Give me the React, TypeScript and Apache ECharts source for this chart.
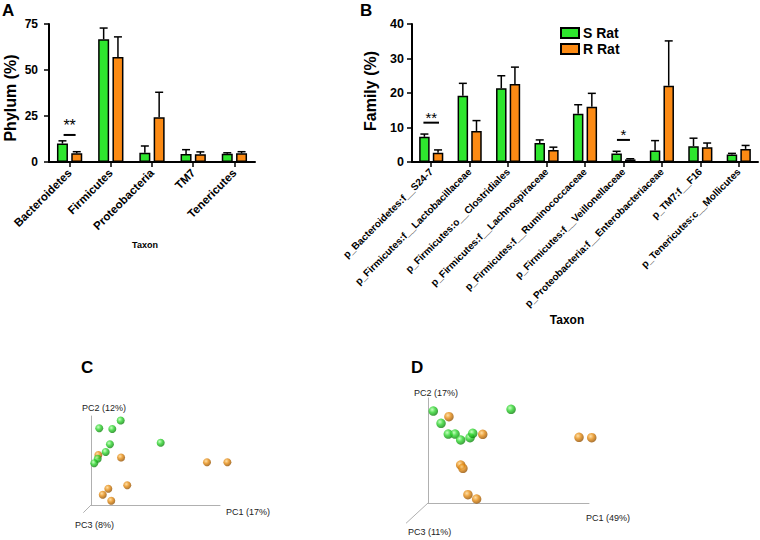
import React, { useEffect, useRef } from "react";
import * as echarts from "echarts";

const FONT = "Liberation Sans, Arial, Helvetica, sans-serif";
const GREEN = "#2ee62e";
const ORANGE = "#fb8a14";

// Panel A: phylum level
const phylumCats = ["Bacteroidetes", "Firmicutes", "Proteobacteria", "TM7", "Tenericutes"];
const phylumS = [10, 66.7, 5, 4.3, 4.5];
const phylumSSem = [1.5, 6.1, 3.7, 2.4, 0.5];
const phylumR = [4.8, 57, 24.3, 4.2, 4.7];
const phylumRSem = [0.8, 11, 13.6, 1.3, 0.9];
const phylumTicks = [0, 25, 50, 75];

// Panel B: family level
const familyCats = [
  "p_Bacteroidetes:f__S24-7",
  "p_Firmicutes:f__Lactobacillaceae",
  "p_Firmicutes:o__Clostridiales",
  "p_Firmicutes:f__Lachnospiraceae",
  "p_Firmicutes:f__Ruminococcaceae",
  "p_Firmicutes:f__Veillonellaceae",
  "p_Proteobacteria:f__Enterobacteriaceae",
  "p_TM7:f__F16",
  "p_Tenericutes:c__Mollicutes",
];
const familyS = [7.3, 19.2, 21.4, 5.5, 14.0, 2.5, 3.3, 4.6, 2.2];
const familySSem = [0.8, 3.6, 3.6, 0.9, 2.6, 0.6, 2.9, 2.3, 0.3];
const familyR = [2.7, 9.0, 22.6, 3.5, 16.0, 0.75, 22.1, 4.3, 3.8];
const familyRSem = [0.8, 3.0, 4.9, 0.8, 3.9, 0.2, 13.0, 1.2, 1.0];
const familyTicks = [0, 10, 20, 30, 40];

// significance markers: [category index, bar-line height]
const sigA = [[0, 14.7]];
const sigALabels = ["**"];
const sigB = [[0, 11.4], [5, 6.4]];
const sigBLabels = ["**", "*"];

// Panel C / D: PCoA scores (normalised plot units)
const cGreen = [[6.4, 86.2], [16.5, 85.4], [23.0, 94.9], [14.7, 68.2], [11.4, 59.6], [5.2, 52], [2.5, 46.9], [54.0, 69.9]];
const cOrange = [[5.7, 56.2], [23.3, 53.4], [89.9, 48], [105.7, 48], [28.1, 22.1], [13.4, 18.3], [9.1, 11.6], [15.7, 4.8]];
const dGreen = [[3.3, 87.6], [8.1, 75.9], [12.6, 65.7], [16.8, 65.7], [20.3, 60], [26.1, 62.2], [27.8, 66.4], [51.6, 89.2]];
const dOrange = [[13.0, 82.2], [34.0, 65.4], [93.8, 62.6], [101.7, 62.2], [20.3, 36.2], [21.7, 33], [24.8, 7.9], [30.2, 3.8]];

function errRender(offset: number, capW: number) {
  return (params: any, api: any) => {
    const i = api.value(0);
    const p1 = api.coord([i, api.value(1)]);
    const p2 = api.coord([i, api.value(2)]);
    const cx = p1[0] + offset;
    return {
      type: "group",
      children: [
        { type: "line", shape: { x1: cx, y1: p1[1], x2: cx, y2: p2[1] }, style: { stroke: "#000", lineWidth: 1.5 } },
        { type: "line", shape: { x1: cx - capW / 2, y1: p2[1], x2: cx + capW / 2, y2: p2[1] }, style: { stroke: "#000", lineWidth: 1.5 } },
      ],
    };
  };
}

function sigRender(labels: string[], halfW: number[], dy: number, fs: number) {
  return (params: any, api: any) => {
    const idx = params.dataIndex;
    const p = api.coord([api.value(0), api.value(1)]);
    return {
      type: "group",
      children: [
        { type: "line", shape: { x1: p[0] - halfW[idx], y1: p[1], x2: p[0] + halfW[idx], y2: p[1] }, style: { stroke: "#000", lineWidth: 2 } },
        {
          type: "text",
          x: p[0],
          y: p[1] - dy,
          style: { text: labels[idx], fill: "#000", fontSize: fs, fontFamily: FONT, align: "center", verticalAlign: "middle" },
        },
      ],
    };
  };
}

function sphere(base: string, light: string, dark: string) {
  return {
    type: "radial",
    x: 0.38,
    y: 0.35,
    r: 0.7,
    colorStops: [
      { offset: 0, color: light },
      { offset: 0.45, color: base },
      { offset: 1, color: dark },
    ],
  };
}

const barAxisLine = { show: true, lineStyle: { color: "#000", width: 2 } };
const barAxisTick = { show: true, length: 5, lineStyle: { color: "#000", width: 1.5 } };
const pcAxis = (gi: number) => ({
  type: "value",
  gridIndex: gi,
  min: 0,
  max: 100,
  axisLine: { show: true, onZero: false, lineStyle: { color: "#b0b0b0", width: 1 } },
  axisTick: { show: false },
  axisLabel: { show: false },
  splitLine: { show: false },
});

const txt = (text: string, x: number, y: number, size: number, weight: string, extra: any = {}) => ({
  type: "text",
  x,
  y,
  style: {
    text,
    fill: extra.fill || "#000",
    fontSize: size,
    fontWeight: weight,
    fontFamily: FONT,
    align: extra.align || "left",
    verticalAlign: extra.verticalAlign || "middle",
  },
  rotation: extra.rotation || 0,
});

export default function App() {
  const ref = useRef<HTMLDivElement>(null);
  useEffect(() => {
    if (!ref.current) return;
    const chart = echarts.init(ref.current, undefined, { renderer: "svg" });
    const greenSphere = sphere("#2fd62f", "#b8ffb0", "#0a7a0a");
    const orangeSphere = sphere("#e68c12", "#ffd890", "#8a4a00");
    const option: any = {
      animation: false,
      backgroundColor: "#fff",
      textStyle: { fontFamily: FONT },
      grid: [
        { left: 49, top: 24, width: 206, height: 138 },
        { left: 412, top: 24, width: 346, height: 138 },
        { left: 91, top: 416, width: 129, height: 89 },
        { left: 428, top: 398, width: 161, height: 105 },
      ],
      legend: {
        data: ["S Rat", "R Rat"],
        orient: "vertical",
        left: 555,
        top: 21,
        itemWidth: 18,
        itemHeight: 10,
        itemGap: 2,
        icon: "rect",
        selectedMode: false,
        textStyle: { fontSize: 14, fontWeight: "bold", color: "#000", fontFamily: FONT, padding: [0, 0, 0, -1] },
      },
      xAxis: [
        {
          type: "category",
          gridIndex: 0,
          data: phylumCats,
          axisLine: barAxisLine,
          axisTick: { ...barAxisTick, alignWithLabel: true },
          axisLabel: { rotate: 45, interval: 0, fontSize: 11.5, fontWeight: "bold", color: "#000", margin: 9, fontFamily: FONT },
        },
        {
          type: "category",
          gridIndex: 1,
          data: familyCats,
          axisLine: barAxisLine,
          axisTick: { ...barAxisTick, alignWithLabel: true },
          axisLabel: { rotate: 45, interval: 0, fontSize: 10, fontWeight: "bold", color: "#000", margin: 8, fontFamily: FONT },
        },
        pcAxis(2),
        pcAxis(3),
      ],
      yAxis: [
        {
          type: "value",
          gridIndex: 0,
          min: phylumTicks[0],
          max: phylumTicks[phylumTicks.length - 1],
          interval: 25,
          axisLine: barAxisLine,
          axisTick: barAxisTick,
          splitLine: { show: false },
          axisLabel: { fontSize: 12, fontWeight: "bold", color: "#000", margin: 11, fontFamily: FONT },
        },
        {
          type: "value",
          gridIndex: 1,
          min: familyTicks[0],
          max: familyTicks[familyTicks.length - 1],
          interval: 10,
          axisLine: barAxisLine,
          axisTick: barAxisTick,
          splitLine: { show: false },
          axisLabel: { fontSize: 12.5, fontWeight: "bold", color: "#000", margin: 8, fontFamily: FONT },
        },
        pcAxis(2),
        pcAxis(3),
      ],
      series: [
        {
          name: "S Rat",
          type: "bar",
          xAxisIndex: 0,
          yAxisIndex: 0,
          data: phylumS,
          barWidth: 11,
          barGap: "30%",
          itemStyle: { color: GREEN, borderColor: "#000", borderWidth: 1.5 },
        },
        {
          name: "R Rat",
          type: "bar",
          xAxisIndex: 0,
          yAxisIndex: 0,
          data: phylumR,
          barWidth: 11,
          barGap: "30%",
          itemStyle: { color: ORANGE, borderColor: "#000", borderWidth: 1.5 },
        },
        {
          name: "S Rat",
          type: "bar",
          xAxisIndex: 1,
          yAxisIndex: 1,
          data: familyS,
          barWidth: 10.5,
          barGap: "30%",
          itemStyle: { color: GREEN, borderColor: "#000", borderWidth: 1.5 },
        },
        {
          name: "R Rat",
          type: "bar",
          xAxisIndex: 1,
          yAxisIndex: 1,
          data: familyR,
          barWidth: 10.5,
          barGap: "30%",
          itemStyle: { color: ORANGE, borderColor: "#000", borderWidth: 1.5 },
        },
        {
          name: "errAS",
          type: "custom",
          xAxisIndex: 0,
          yAxisIndex: 0,
          data: phylumS.map((v, i) => [i, v, v + phylumSSem[i]]),
          renderItem: errRender(-11 * 0.65, 8),
          z: 5,
        },
        {
          name: "errAR",
          type: "custom",
          xAxisIndex: 0,
          yAxisIndex: 0,
          data: phylumR.map((v, i) => [i, v, v + phylumRSem[i]]),
          renderItem: errRender(11 * 0.65, 8),
          z: 5,
        },
        {
          name: "errBS",
          type: "custom",
          xAxisIndex: 1,
          yAxisIndex: 1,
          data: familyS.map((v, i) => [i, v, v + familySSem[i]]),
          renderItem: errRender(-10.5 * 0.65, 8),
          z: 5,
        },
        {
          name: "errBR",
          type: "custom",
          xAxisIndex: 1,
          yAxisIndex: 1,
          data: familyR.map((v, i) => [i, v, v + familyRSem[i]]),
          renderItem: errRender(10.5 * 0.65, 8),
          z: 5,
        },
        {
          name: "sigA",
          type: "custom",
          xAxisIndex: 0,
          yAxisIndex: 0,
          data: sigA,
          renderItem: sigRender(sigALabels, [6], 9.5, 16),
          z: 5,
        },
        {
          name: "sigB",
          type: "custom",
          xAxisIndex: 1,
          yAxisIndex: 1,
          data: sigB,
          renderItem: sigRender(sigBLabels, [7.8, 6.5], 5.5, 15),
          z: 5,
        },
        {
          name: "cR",
          type: "scatter",
          xAxisIndex: 2,
          yAxisIndex: 2,
          data: cOrange,
          symbolSize: 8,
          clip: false,
          itemStyle: { color: orangeSphere },
        },
        {
          name: "cS",
          type: "scatter",
          xAxisIndex: 2,
          yAxisIndex: 2,
          data: cGreen,
          symbolSize: 8,
          clip: false,
          itemStyle: { color: greenSphere },
        },
        {
          name: "dR",
          type: "scatter",
          xAxisIndex: 3,
          yAxisIndex: 3,
          data: dOrange,
          symbolSize: 9.5,
          clip: false,
          itemStyle: { color: orangeSphere },
        },
        {
          name: "dS",
          type: "scatter",
          xAxisIndex: 3,
          yAxisIndex: 3,
          data: dGreen,
          symbolSize: 9.5,
          clip: false,
          itemStyle: { color: greenSphere },
        },
      ],
      graphic: [
        txt("A", 2, 10, 17, "bold"),
        txt("B", 360, 10, 17, "bold"),
        txt("C", 81, 367, 17, "bold"),
        txt("D", 411, 367, 17, "bold"),
        txt("Phylum (%)", 10, 98, 16, "bold", { align: "center", rotation: Math.PI / 2 }),
        txt("Family (%)", 370, 91, 16, "bold", { align: "center", rotation: Math.PI / 2 }),
        txt("Taxon", 145, 245, 9, "bold", { align: "center" }),
        txt("Taxon", 567, 320, 12, "bold", { align: "center" }),
        txt("PC2 (12%)", 82, 408, 9, "normal", { fill: "#222" }),
        txt("PC1 (17%)", 226, 512, 9, "normal", { fill: "#222" }),
        txt("PC3 (8%)", 75, 525, 9, "normal", { fill: "#222" }),
        txt("PC2 (17%)", 414, 393, 9, "normal", { fill: "#222" }),
        txt("PC1 (49%)", 586, 518, 9, "normal", { fill: "#222" }),
        txt("PC3 (11%)", 408, 532, 9, "normal", { fill: "#222" }),
        { type: "line", shape: { x1: 91, y1: 505, x2: 83.3, y2: 512.7 }, style: { stroke: "#b0b0b0", lineWidth: 1 } },
        { type: "line", shape: { x1: 428, y1: 503, x2: 406, y2: 523.3 }, style: { stroke: "#b0b0b0", lineWidth: 1 } },
      ],
    };
    chart.setOption(option);
    return () => chart.dispose();
  }, []);
  return (
    <div
      ref={ref}
      style={{ position: "fixed", left: 0, top: 0, width: 760, height: 540, background: "#fff" }}
    />
  );
}
